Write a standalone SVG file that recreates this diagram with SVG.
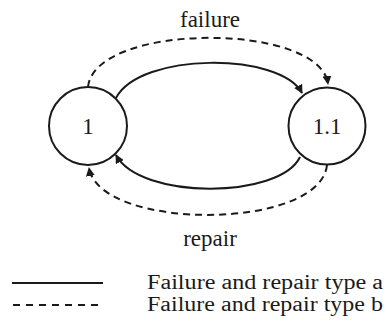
<svg xmlns="http://www.w3.org/2000/svg" width="386" height="325" viewBox="0 0 386 325">
  <style>
    .state { fill: #ffffff; stroke: #1a1a1a; stroke-width: 2; }
    .label { font-family: "Liberation Serif", "Times New Roman", serif; fill: #1a1a1a; }
    .edge { fill: none; stroke: #1a1a1a; stroke-width: 2; }
    .dashed { stroke-dasharray: 7 5; }
  </style>
  <defs>
    <marker id="arrow" viewBox="0 0 10 10" refX="9" refY="5" markerWidth="4.5" markerHeight="4.5" orient="auto" markerUnits="strokeWidth">
      <path d="M0,0 L10,5 L0,10 z" fill="#1a1a1a"/>
    </marker>
  </defs>
  <rect width="386" height="325" fill="#ffffff"/>

  <g id="connectors">
    <path class="edge dashed" d="M88,87 C95,22 320,22 328,84" marker-end="url(#arrow)"/>
    <path class="edge" d="M116,98 C140,52 280,52 302,93" marker-end="url(#arrow)"/>
    <path class="edge" d="M300,157 C280,199 140,200 116,155" marker-end="url(#arrow)"/>
    <path class="edge dashed" d="M327,165 C320,231 100,231 89,168" marker-end="url(#arrow)"/>
  </g>

  <g id="state-1">
    <circle class="state" cx="88" cy="126" r="39"/>
    <text class="label" x="88" y="134" font-size="23" text-anchor="middle">1</text>
  </g>
  <g id="state-1-1">
    <circle class="state" cx="327" cy="126" r="38.5"/>
    <text class="label" x="327" y="134" font-size="23" text-anchor="middle">1.1</text>
  </g>

  <g id="edge-labels">
    <text class="label" x="210" y="27" font-size="23" text-anchor="middle">failure</text>
    <text class="label" x="210" y="246" font-size="23" text-anchor="middle">repair</text>
  </g>

  <g id="legend">
    <line class="edge" x1="12" y1="283" x2="103" y2="283"/>
    <line class="edge" x1="13" y1="305" x2="103" y2="305" stroke-dasharray="7 6"/>
    <text class="label" x="147" y="289" font-size="20" textLength="236" lengthAdjust="spacingAndGlyphs">Failure and repair type a</text>
    <text class="label" x="147" y="311" font-size="20" textLength="236" lengthAdjust="spacingAndGlyphs">Failure and repair type b</text>
  </g>
</svg>
